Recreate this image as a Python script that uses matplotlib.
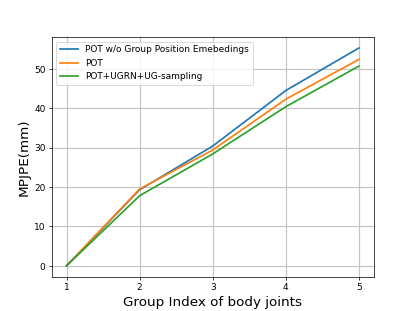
import matplotlib
matplotlib.use("Agg")
import matplotlib.pyplot as plt

groups = [1, 2, 3, 4, 5]
pot_wo_gpe = [0.0, 19.3, 30.4, 44.5, 55.3]
pot = [0.0, 19.5, 29.4, 42.3, 52.4]
pot_ugrn = [0.0, 17.8, 28.4, 40.4, 50.7]

fig, ax = plt.subplots(figsize=(6.4, 4.8), dpi=64.85)
ax.plot(groups, pot_wo_gpe, label="POT w/o Group Position Emebedings", lw=1.9)
ax.plot(groups, pot, label="POT", lw=1.9)
ax.plot(groups, pot_ugrn, label="POT+UGRN+UG-sampling", lw=1.9)
ax.set_xticks(groups)
ax.grid(True, color="#c4c4c4", lw=1.3)
ax.set_xlabel("Group Index of body joints", fontsize=15)
ax.set_ylabel("MPJPE(mm)", fontsize=15)
ax.legend(loc="upper left")
fig.savefig("out.png")
